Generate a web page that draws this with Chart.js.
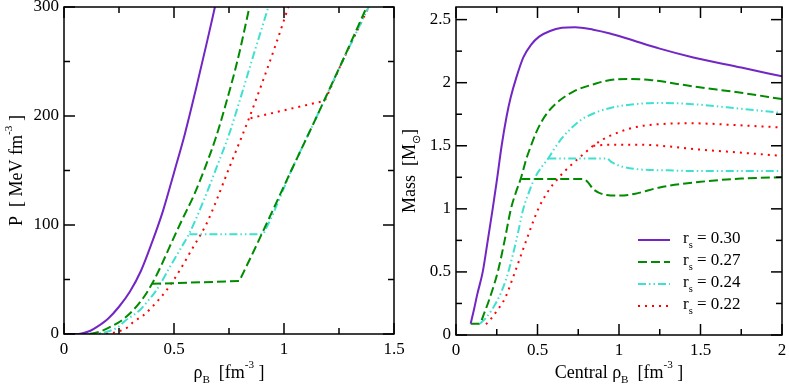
<!DOCTYPE html>
<html>
<head>
<meta charset="utf-8">
<script src="https://cdn.jsdelivr.net/npm/chart.js@4.4.1/dist/chart.umd.min.js"></script>
<style>
  html, body { margin: 0; padding: 0; background: #fff; }
  #wrap { position: relative; width: 789px; height: 388px; overflow: hidden; }
  #eos { position: absolute; left: 0; top: 0; }
  #mass { position: absolute; left: 400px; top: 0; }
</style>
</head>
<body>
<div id="wrap">
  <canvas id="eos" width="420" height="388" style="width:420px;height:388px"></canvas>
  <canvas id="mass" width="389" height="388" style="width:389px;height:388px"></canvas>
</div>
<script>
// r_s values of the four curves
const radii = ['0.30', '0.27', '0.24', '0.22'];

// left panel: pressure P [MeV fm^-3] vs rho_B [fm^-3], pairs [rho, P]
const eos030 = [[0,0],[0.05,0],[0.08,0.5],[0.12,3],[0.15,6.5],[0.2,14],[0.25,25],[0.3,39],[0.35,58],[0.4,84],
  [0.45,113],[0.5,148],[0.55,184],[0.6,225],[0.65,268],[0.686,300]];
const eos027 = [[0,0],[0.1,0],[0.14,1],[0.18,3.5],[0.21,6.5],[0.255,11.5],[0.315,22],[0.36,33],[0.4,46],[0.44,62],
  [0.48,80],[0.535,104],[0.59,127],[0.64,152],[0.69,180],[0.73,207],[0.79,252],[0.843,300]];
const eos027h = [[0.4,46],[0.797,48.6],[0.86,75],[0.918,100],[1.033,150],[1.15,200],[1.265,250],[1.376,300]];
const eos024 = [[0,0],[0.12,0],[0.17,1],[0.21,3],[0.247,6.5],[0.277,12],[0.345,22],[0.38,30],[0.421,40.4],[0.482,61.7],
  [0.535,80],[0.57,92.4],[0.63,120],[0.694,153],[0.75,183],[0.8,215],[0.86,255],[0.929,300]];
const eos024h = [[0.57,91.5],[0.906,91.5],[0.95,110],[1.033,150],[1.15,200],[1.265,250],[1.385,300]];
const eos022 = [[0,0],[0.15,0],[0.2,0.5],[0.25,2.5],[0.292,6.5],[0.315,11],[0.36,17],[0.399,24.5],[0.467,40.4],
  [0.527,58.7],[0.588,80],[0.645,100],[0.69,121],[0.75,152],[0.8,177],[0.845,200],[0.9,230],[0.96,264],[1.02,300]];
const eos022h = [[0.848,198],[1.186,214],[1.265,250],[1.385,300]];

// right panel: mass [M_sun] vs central rho_B [fm^-3], pairs [rho, M]
const mass030 = [[0.09,0.09],[0.11,0.2],[0.13,0.32],[0.164,0.5],[0.195,0.75],[0.225,1.0],[0.25,1.22],[0.28,1.5],
  [0.31,1.73],[0.335,1.88],[0.37,2.04],[0.413,2.2],[0.46,2.3],[0.51,2.365],[0.577,2.41],[0.65,2.435],[0.73,2.44],
  [0.842,2.42],[0.945,2.39],[1.05,2.35],[1.25,2.27],[1.456,2.2],[1.75,2.12],[2.0,2.05]];
const mass027 = [[0.09,0.09],[0.143,0.09],[0.175,0.18],[0.209,0.3],[0.26,0.52],[0.3,0.76],[0.337,1.0],[0.37,1.14],
  [0.4,1.25],[0.43,1.39],[0.46,1.5],[0.49,1.6],[0.52,1.68],[0.56,1.76],[0.618,1.84],[0.72,1.93],[0.85,1.99],
  [0.924,2.016],[1.05,2.03],[1.2,2.02],[1.456,1.97],[1.75,1.92],[2.0,1.87]];
const mass027h = [[0.4,1.236],[0.6,1.236],[0.781,1.236],[0.81,1.21],[0.842,1.156],[0.924,1.11],[1.006,1.105],
  [1.1,1.12],[1.25,1.17],[1.5,1.214],[1.75,1.24],[2.0,1.25]];
const mass024 = [[0.147,0.09],[0.18,0.13],[0.22,0.2],[0.26,0.29],[0.29,0.38],[0.321,0.5],[0.37,0.75],[0.413,1.0],
  [0.45,1.14],[0.485,1.25],[0.53,1.34],[0.566,1.4],[0.6,1.47],[0.65,1.56],[0.7,1.63],[0.761,1.7],[0.85,1.76],
  [0.947,1.8],[1.1,1.83],[1.252,1.84],[1.45,1.83],[1.661,1.805],[2.0,1.76]];
const mass024h = [[0.566,1.4],[0.75,1.4],[0.924,1.4],[0.955,1.37],[1.006,1.34],[1.108,1.315],[1.3,1.305],
  [1.456,1.3],[2.0,1.3]];
const mass022 = [[0.184,0.085],[0.21,0.12],[0.25,0.19],[0.3,0.29],[0.362,0.5],[0.434,0.76],[0.505,1.0],[0.56,1.13],
  [0.625,1.24],[0.7,1.34],[0.77,1.42],[0.842,1.5],[0.9,1.55],[0.947,1.58],[1.05,1.63],[1.149,1.659],[1.3,1.675],
  [1.456,1.678],[1.7,1.665],[2.0,1.645]];
const mass022h = [[0.842,1.5],[0.947,1.508],[1.149,1.508],[1.3,1.495],[1.456,1.474],[1.7,1.45],[2.0,1.42]];

// tick values
const eosXMajor = [0, 0.5, 1, 1.5], eosXMinor = [0.25, 0.75, 1.25];
const eosYMajor = [0, 100, 200, 300], eosYMinor = [50, 150, 250];
const massXMajor = [0, 0.5, 1, 1.5, 2], massXMinor = [0.25, 0.75, 1.25, 1.75];
const massYMajor = [0, 0.5, 1, 1.5, 2, 2.5], massYMinor = [0.25, 0.75, 1.25, 1.75, 2.25];

const serif = "'Liberation Serif', 'Times New Roman', serif";
const colors = ['#7226c4', '#008b00', '#40e0d0', '#ff0000'];
const dashes = [[], [9, 4], [8, 3, 1.5, 3, 1.5, 3], [2, 5]];

Chart.defaults.font.family = serif;
Chart.defaults.font.size = 17;
Chart.defaults.color = '#000';

// parts: [text, mode]  mode 1 = superscript, -1 = subscript
function drawRich(ctx, parts, x, y, size, align) {
  let w = 0;
  parts.forEach(p => {
    ctx.font = (p[1] ? size * 0.62 : size) + 'px ' + serif;
    w += ctx.measureText(p[0]).width;
  });
  let cx = align === 'center' ? x - w / 2 : x;
  ctx.textBaseline = 'middle';
  ctx.textAlign = 'left';
  parts.forEach(p => {
    ctx.font = (p[1] ? size * 0.62 : size) + 'px ' + serif;
    const dy = p[1] === 1 ? -size * 0.45 : p[1] === -1 ? size * 0.38 : 0;
    ctx.fillText(p[0], cx, y + dy);
    cx += ctx.measureText(p[0]).width;
  });
}

function line(ctx, x1, y1, x2, y2) {
  ctx.beginPath(); ctx.moveTo(x1, y1); ctx.lineTo(x2, y2); ctx.stroke();
}

const framePlugin = {
  id: 'frame',
  afterDraw(chart, args, o) {
    const ctx = chart.ctx, a = chart.chartArea, sx = chart.scales.x, sy = chart.scales.y;
    ctx.save();
    ctx.strokeStyle = '#000';
    ctx.lineWidth = 1.5;
    ctx.strokeRect(a.left, a.top, a.right - a.left, a.bottom - a.top);
    const tick = (vals, len) => {
      vals.forEach(v => {
        const px = sx.getPixelForValue(v);
        line(ctx, px, a.bottom, px, a.bottom - len);
        line(ctx, px, a.top, px, a.top + len);
      });
    };
    const tickY = (vals, len) => {
      vals.forEach(v => {
        const py = sy.getPixelForValue(v);
        line(ctx, a.left, py, a.left + len, py);
        line(ctx, a.right, py, a.right - len, py);
      });
    };
    tick(o.xMajor, 11); tick(o.xMinor, 6);
    tickY(o.yMajor, 11); tickY(o.yMinor, 6);

    ctx.fillStyle = '#000';
    drawRich(ctx, o.xTitle, (a.left + a.right) / 2, 373, 18, 'center');
    ctx.save();
    ctx.translate(o.yTitleX, (a.top + a.bottom) / 2);
    ctx.rotate(-Math.PI / 2);
    drawRich(ctx, o.yTitle, 0, 0, 18, 'center');
    ctx.restore();

    if (o.legend) {
      const L = o.legend;
      let i = 0;
      chart.data.datasets.forEach(ds => {
        if (!ds.legendText) return;
        const y = L.y + i * L.gap;
        ctx.strokeStyle = ds.borderColor;
        ctx.lineWidth = 2;
        ctx.setLineDash(ds.borderDash || []);
        line(ctx, L.x, y, L.x + L.len, y);
        ctx.setLineDash([]);
        ctx.fillStyle = '#000';
        drawRich(ctx, [['r', 0], ['s', -1], [' = ' + ds.legendText, 0]], L.x + 45, y - 1, 17, 'left');
        i++;
      });
    }
    ctx.restore();
  }
};

function dataset(pairs, k, smooth, withLegend) {
  return {
    data: pairs.map(p => ({ x: p[0], y: p[1] })),
    showLine: true,
    borderColor: colors[k],
    borderDash: dashes[k],
    borderWidth: 2,
    borderCapStyle: 'butt',
    pointRadius: 0,
    fill: false,
    tension: 0,
    cubicInterpolationMode: smooth ? 'monotone' : 'default',
    legendText: withLegend ? radii[k] : null
  };
}

function axis(min, max, major, size, dir) {
  return {
    type: 'linear', min: min, max: max,
    afterBuildTicks: sc => { sc.ticks = major.map(v => ({ value: v })); },
    afterFit: sc => {
      if (dir === 'x') sc.height = size; else sc.width = size;
      // keep edge labels from pushing the plot area around
      sc.paddingTop = 0; sc.paddingBottom = 0; sc.paddingLeft = 0; sc.paddingRight = 0;
    },
    grid: { display: false, drawTicks: false },
    border: { display: false },
    ticks: {
      color: '#000', font: { family: serif, size: 17 },
      padding: 5, maxRotation: 0, autoSkip: false,
      callback: v => String(v)
    }
  };
}

function makeChart(id, datasets, xs, ys, frame, pad) {
  return new Chart(document.getElementById(id), {
    type: 'scatter',
    data: { datasets: datasets },
    options: {
      responsive: false,
      animation: false,
      layout: { padding: pad },
      plugins: { legend: { display: false }, tooltip: { enabled: false }, frame: frame },
      scales: { x: xs, y: ys }
    },
    plugins: [framePlugin]
  });
}

makeChart('eos', [
    dataset(eos030, 0, true),
    dataset(eos027, 1, true), dataset(eos027h, 1, false),
    dataset(eos024, 2, true), dataset(eos024h, 2, false),
    dataset(eos022, 3, true), dataset(eos022h, 3, false)
  ],
  axis(0, 1.5, eosXMajor, 54, 'x'),
  axis(0, 300, eosYMajor, 64, 'y'),
  {
    xMajor: eosXMajor, xMinor: eosXMinor, yMajor: eosYMajor, yMinor: eosYMinor,
    xTitle: [['\u03c1', 0], ['B', -1], ['  [fm', 0], ['-3', 1], [' ]', 0]],
    yTitle: [['P  [ MeV fm', 0], ['-3', 1], [' ]', 0]],
    yTitleX: 17
  },
  { top: 7, right: 26, left: 0, bottom: 0 });

makeChart('mass', [
    dataset(mass030, 0, true, true),
    dataset(mass027, 1, true, true), dataset(mass027h, 1, true),
    dataset(mass024, 2, true, true), dataset(mass024h, 2, true),
    dataset(mass022, 3, true, true), dataset(mass022h, 3, true)
  ],
  axis(0, 2, massXMajor, 53, 'x'),
  axis(0, 2.6, massYMajor, 56, 'y'),
  {
    xMajor: massXMajor, xMinor: massXMinor, yMajor: massYMajor, yMinor: massYMinor,
    xTitle: [['Central \u03c1', 0], ['B', -1], ['  [fm', 0], ['-3', 1], [' ]', 0]],
    yTitle: [['Mass  [M', 0], ['\u2299', -1], [']', 0]],
    yTitleX: 10,
    legend: { x: 238, y: 240, gap: 22, len: 32 }
  },
  { top: 7, right: 7, left: 0, bottom: 0 });
</script>
</body>
</html>
